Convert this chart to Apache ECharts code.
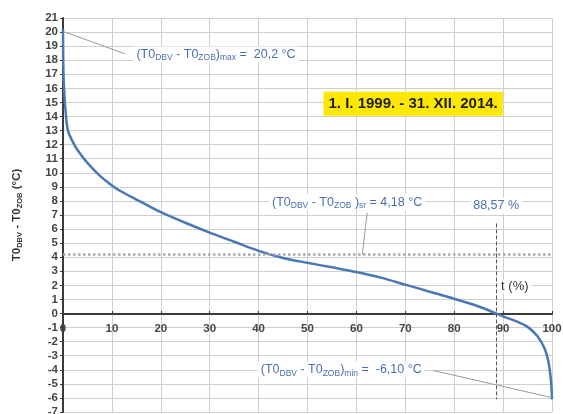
<!DOCTYPE html>
<html>
<head>
<meta charset="utf-8">
<script src="https://cdn.jsdelivr.net/npm/echarts@6/dist/echarts.min.js"></script>
<style>
html,body{margin:0;padding:0;background:#fff;}
#c{width:563px;height:414px;}
</style>
</head>
<body>
<div id="c"></div>
<script>
// ---- data ----
const tPercent = [0, 0.1, 0.3, 0.5, 1, 2, 3, 5, 7.5, 10, 12, 15, 17.5, 20, 25, 30, 35, 40, 45, 50, 55, 60, 65, 70, 75, 80, 85, 88.57, 90, 93, 95, 97, 98.5, 99.3, 99.8, 100];
const deltaT   = [20.2, 17.0, 15.5, 14.5, 13.0, 12.2, 11.6, 10.7, 9.8, 9.1, 8.65, 8.1, 7.65, 7.2, 6.45, 5.75, 5.1, 4.45, 3.95, 3.6, 3.28, 2.95, 2.55, 2.05, 1.55, 1.05, 0.5, 0.0, -0.2, -0.6, -0.95, -1.6, -2.5, -3.5, -4.8, -6.1];
const maxValue = 20.2;
const minValue = -6.10;
const avgValue = 4.18;
const zeroCrossPct = 88.57;
const xTicks = [0, 10, 20, 30, 40, 50, 60, 70, 80, 90, 100];
const yTicks = [-7, -6, -5, -4, -3, -2, -1, 0, 1, 2, 3, 4, 5, 6, 7, 8, 9, 10, 11, 12, 13, 14, 15, 16, 17, 18, 19, 20, 21];
const periodLabel = '1. I. 1999. - 31. XII. 2014.';

// ---- chart ----
const FONT = 'Liberation Sans, Arial, sans-serif';
const ANN = '#4a6fb0';
const sub = { fontSize: 8.5, fontFamily: FONT, color: ANN, verticalAlign: 'bottom', lineHeight: 16, padding: [6, 0, 0, 0] };
const main = { fontSize: 12.5, fontFamily: FONT, color: ANN, lineHeight: 16, verticalAlign: 'middle' };
const fmtNum = v => String(v).replace('.', ',');

const points = tPercent.map((t, i) => [t, deltaT[i]]);

function note(coord, text, extra) {
  return Object.assign({
    coord: coord,
    symbol: 'rect', symbolSize: 1,
    itemStyle: { color: 'rgba(0,0,0,0)' },
    label: {
      show: true, position: 'inside', formatter: text,
      backgroundColor: '#fff', padding: [0, 3],
      rich: { m: main, s: sub }
    }
  }, extra || {});
}

const maxText = '{m|(T0}{s|DBV}{m| - T0}{s|ZOB}{m|)}{s|max}{m| =  ' + fmtNum(maxValue) + ' °C}';

const chart = echarts.init(document.getElementById('c'), null, { renderer: 'canvas' });
chart.setOption({
  animation: false,
  backgroundColor: '#fff',
  grid: { left: 63, right: 11, top: 18, bottom: 2, containLabel: false, outerBoundsMode: 'none' },
  xAxis: {
    type: 'value', min: xTicks[0], max: xTicks[xTicks.length - 1], interval: 10,
    offset: -98,
    axisLine: { onZero: false, lineStyle: { color: '#3a3a3a', width: 2 } },
    axisTick: { show: true, inside: true, length: 3, lineStyle: { color: '#3a3a3a' } },
    axisLabel: { margin: 9, color: '#444', fontWeight: 'bold', fontSize: 11.5, fontFamily: FONT },
    splitLine: { show: true, lineStyle: { color: '#cfcfcf', width: 1 } }
  },
  yAxis: {
    type: 'value', min: yTicks[0], max: yTicks[yTicks.length - 1], interval: 1,
    name: '{b|T0}{bs|DBV}{b| - T0}{bs|ZOB}{b| (°C)}',
    nameLocation: 'middle', nameRotate: 90, nameGap: 39,
    nameTextStyle: {
      rich: {
        b: { fontSize: 11.5, fontWeight: 'bold', color: '#333', fontFamily: FONT, lineHeight: 15, verticalAlign: 'middle' },
        bs: { fontSize: 7.5, fontWeight: 'bold', color: '#333', fontFamily: FONT, lineHeight: 15, verticalAlign: 'bottom', padding: [5, 0, 0, 0] }
      }
    },
    axisLine: { show: true, onZero: false, lineStyle: { color: '#3a3a3a', width: 2 } },
    axisTick: { show: true, length: 3, lineStyle: { color: '#3a3a3a' } },
    axisLabel: { margin: 5, color: '#444', fontWeight: 'bold', fontSize: 11.5, fontFamily: FONT },
    splitLine: { show: true, lineStyle: { color: '#cfcfcf', width: 1 } }
  },
  series: [{
    type: 'line',
    data: points,
    showSymbol: false,
    smooth: 0.35,
    lineStyle: { color: '#4a78b5', width: 2.5 },
    z: 3,
    markLine: {
      silent: true, symbol: 'none', animation: false,
      label: { show: false },
      data: [
        { yAxis: avgValue, lineStyle: { color: '#aaaaaa', type: 'dotted', width: 2.5 } },
        [{ coord: [zeroCrossPct, 6.4], lineStyle: { color: '#555', type: 'dashed', width: 1 } }, { coord: [zeroCrossPct, minValue] }],
        [{ coord: [0.4, 20.0], lineStyle: { color: '#999', type: 'solid', width: 1 } }, { coord: [12.7, 18.45] }],
        [{ coord: [62.2, 7.15], lineStyle: { color: '#999', type: 'solid', width: 1 } }, { coord: [61.2, avgValue] }],
        [{ coord: [75.7, -4.05], lineStyle: { color: '#999', type: 'solid', width: 1 } }, { coord: [99.6, -5.95] }]
      ]
    },
    markPoint: {
      silent: true, animation: false,
      data: [
        note([14.3, 18.4], maxText, { label: { show: true, position: 'right', distance: 0, backgroundColor: '#fff', padding: [0, 3], formatter: maxText, rich: { m: main, s: sub } } }),
        note([71.6, 14.9], periodLabel, { label: { show: true, position: 'inside', formatter: periodLabel, backgroundColor: '#ffe800', padding: [5, 5, 4, 5], color: '#222', fontWeight: 'bold', fontSize: 15, fontFamily: FONT } }),
        note([58.1, 7.9], '{m|(T0}{s|DBV}{m| - T0}{s|ZOB}{m| )}{s|sr}{m| = ' + fmtNum(avgValue) + ' °C}'),
        note([zeroCrossPct, 7.65], '{m|' + fmtNum(zeroCrossPct) + ' %}'),
        note([92.4, 1.9], '{t|t (%)}', { label: { show: true, position: 'inside', formatter: '{t|t (%)}', backgroundColor: '#fff', padding: [0, 3], rich: { t: { fontSize: 13, fontFamily: FONT, color: '#333' } } } }),
        note([56.9, -4.0], '{m|(T0}{s|DBV}{m| - T0}{s|ZOB}{m|)}{s|min}{m| =  ' + fmtNum(minValue.toFixed(2)) + ' °C}')
      ]
    }
  }]
});
</script>
</body>
</html>
